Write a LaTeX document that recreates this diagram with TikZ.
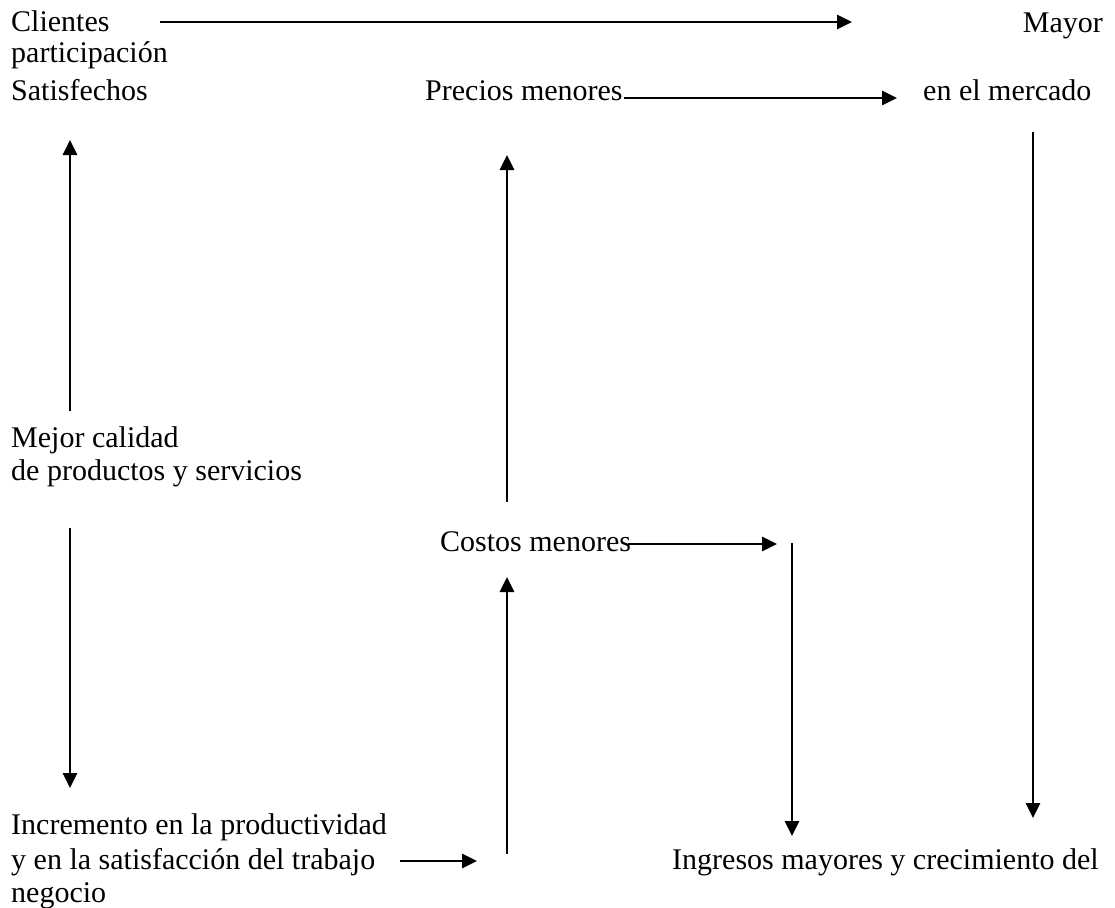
\documentclass[tikz,border=0pt]{standalone}
\usepackage{fontspec}
\setmainfont{Liberation Serif}
\usetikzlibrary{arrows.meta}
\begin{document}
\begin{tikzpicture}[x=1pt,y=-1pt,
  lbl/.style={inner sep=0pt, anchor=base west, font=\fontsize{30}{33}\selectfont},
  arr/.style={-{Triangle[length=15pt,width=14.5pt]}, line width=1.6pt}]
\useasboundingbox (0,0) rectangle (1115,907);
% texts
\node[lbl] (cli) at (11,32) {Clientes};
\node[lbl] (par) at (11,63) {participación};
\node[lbl] (sat) at (11,100) {Satisfechos};
\node[lbl, anchor=base east] (may) at (1103,33) {Mayor};
\node[lbl] (pre) at (425,100) {Precios menores};
\node[lbl] (mer) at (923,100) {en el mercado};
\node[lbl] (mej) at (11,447) {Mejor calidad};
\node[lbl] (dep) at (11,480) {de productos y servicios};
\node[lbl] (cos) at (440,551) {Costos menores};
\node[lbl] (inc) at (11,834) {Incremento en la productividad};
\node[lbl] (yen) at (11,869) {y en la satisfacción del trabajo};
\node[lbl] (neg) at (11,902) {negocio};
\node[lbl] (ing) at (672,869) {Ingresos mayores y crecimiento del};
% arrow end points
\coordinate (a1s) at (160,22);  \coordinate (a1e) at (852,22);
\coordinate (a2s) at (624,98);  \coordinate (a2e) at (897,98);
\coordinate (a3s) at (70,411);  \coordinate (a3e) at (70,140);
\coordinate (a4s) at (507,502); \coordinate (a4e) at (507,155);
\coordinate (a5s) at (1033,132);\coordinate (a5e) at (1033,818);
\coordinate (a6s) at (70,528);  \coordinate (a6e) at (70,788);
\coordinate (a7s) at (628,544); \coordinate (a7e) at (777,544);
\coordinate (a8s) at (792,543); \coordinate (a8e) at (792,836);
\coordinate (a9s) at (507,854); \coordinate (a9e) at (507,577);
\coordinate (a10s) at (400,861);\coordinate (a10e) at (477,861);
\foreach \i in {1,...,10} \draw[arr] (a\i s) -- (a\i e);
\end{tikzpicture}
\end{document}
